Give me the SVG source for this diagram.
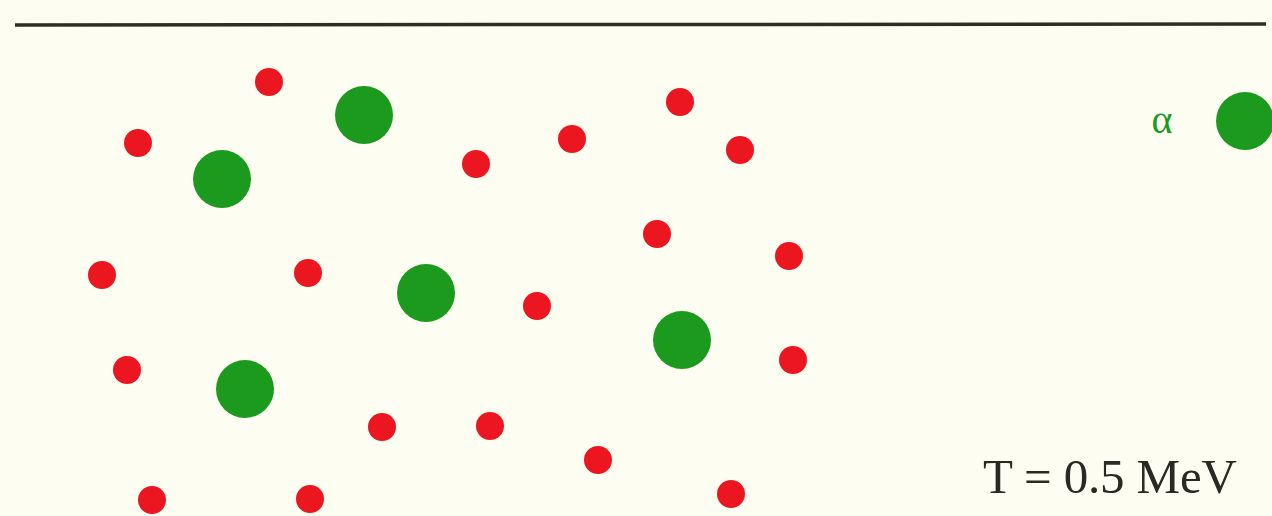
<svg xmlns="http://www.w3.org/2000/svg" width="1272" height="516" viewBox="0 0 1272 516">
<style>
.g{fill:#1c9a1e}
.r{fill:#ec1620}
.t{font-family:"Liberation Serif",serif;fill:#2a2a22}
</style>
<rect width="1272" height="516" fill="#fdfdf1"/>
<line x1="15" y1="25" x2="1266" y2="24" stroke="#2e2e22" stroke-width="3.5"/>
<g id="nucleons">
<circle class="r" cx="269" cy="82" r="14"/>
<circle class="r" cx="138" cy="143" r="14"/>
<circle class="r" cx="476" cy="164" r="14"/>
<circle class="r" cx="572" cy="139" r="14"/>
<circle class="r" cx="680" cy="102" r="14"/>
<circle class="r" cx="740" cy="150" r="14"/>
<circle class="r" cx="657" cy="234" r="14"/>
<circle class="r" cx="789" cy="256" r="14"/>
<circle class="r" cx="102" cy="275" r="14"/>
<circle class="r" cx="308" cy="273" r="14"/>
<circle class="r" cx="537" cy="306" r="14"/>
<circle class="r" cx="127" cy="370" r="14"/>
<circle class="r" cx="793" cy="360" r="14"/>
<circle class="r" cx="382" cy="427" r="14"/>
<circle class="r" cx="490" cy="426" r="14"/>
<circle class="r" cx="598" cy="460" r="14"/>
<circle class="r" cx="152" cy="500" r="14"/>
<circle class="r" cx="310" cy="499" r="14"/>
<circle class="r" cx="731" cy="494" r="14"/>
</g>
<g id="alphas">
<circle class="g" cx="364" cy="115" r="29"/>
<circle class="g" cx="222" cy="179" r="29"/>
<circle class="g" cx="426" cy="293" r="29"/>
<circle class="g" cx="682" cy="340" r="29"/>
<circle class="g" cx="245" cy="389" r="29"/>
</g>
<g id="legend">
<text x="1162" y="133" font-family="Liberation Serif,serif" font-size="40" fill="#1c9a1e" text-anchor="middle">α</text>
<circle class="g" cx="1245" cy="121" r="29"/>
</g>
<text class="t" x="983" y="493" font-size="49" textLength="254" lengthAdjust="spacing">T = 0.5 MeV</text>
</svg>
